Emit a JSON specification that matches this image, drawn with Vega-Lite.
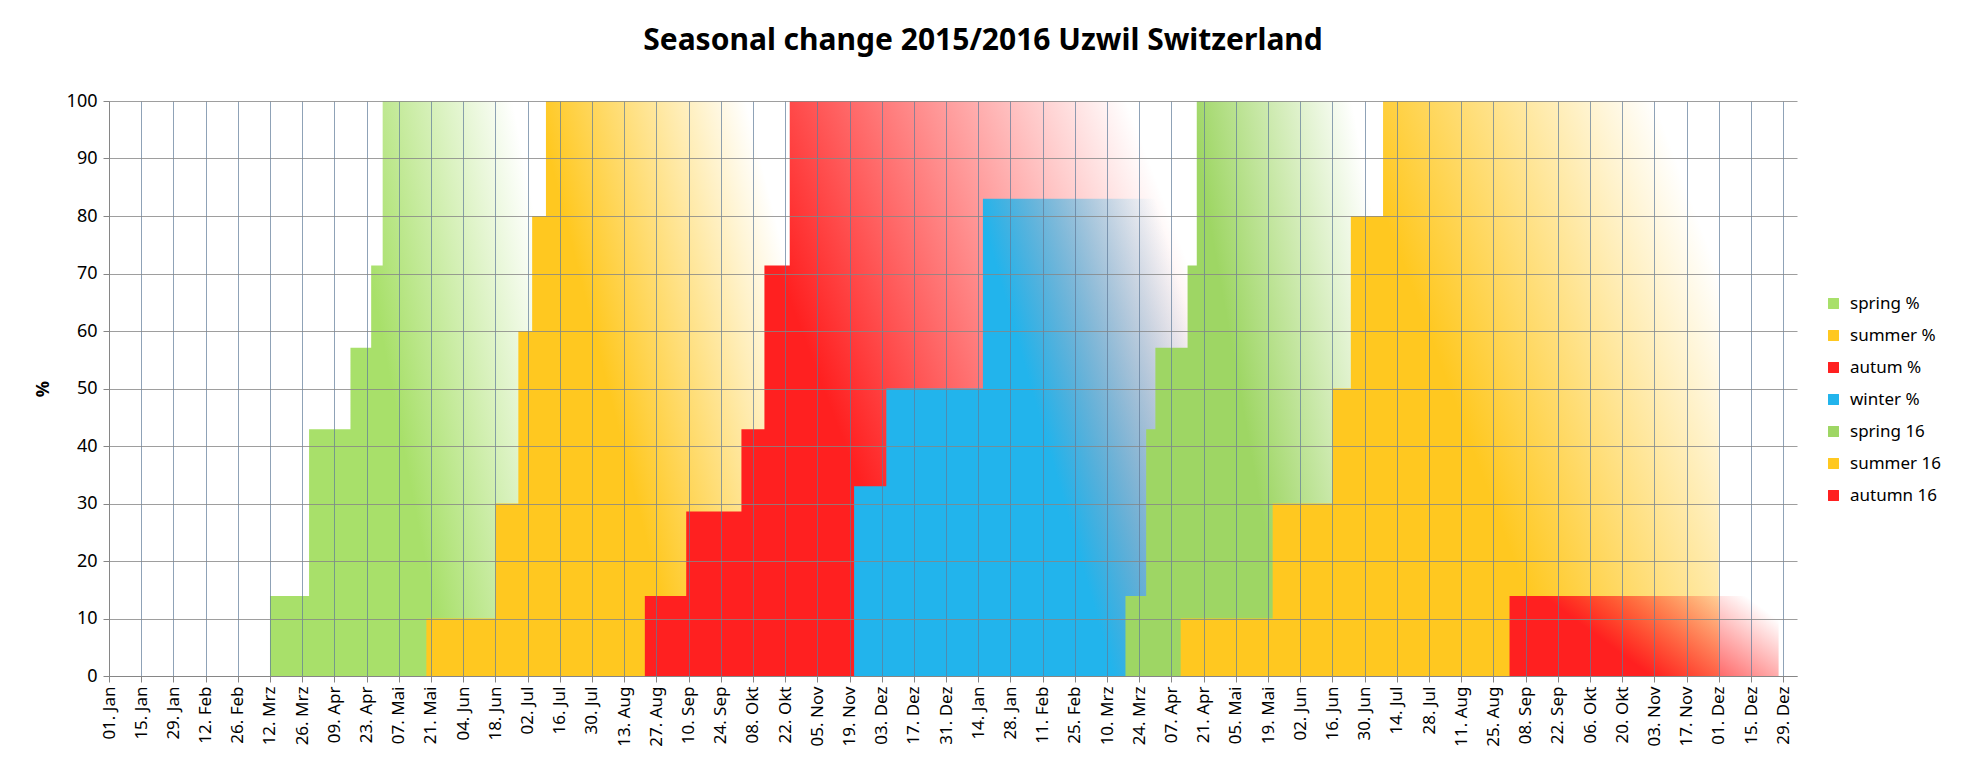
{
  "$schema": "https://vega.github.io/schema/vega-lite/v6.json",
  "width": 1688,
  "height": 575,
  "autosize": "none",
  "padding": {"left": 109, "top": 101, "right": 167, "bottom": 94},
  "background": "white",
  "title": {
    "text": "Seasonal change 2015/2016 Uzwil Switzerland",
    "fontSize": 30, "font": "Noto Sans", "fontWeight": "bold", "color": "#000000",
    "anchor": "middle", "frame": "group", "offset": 36, "dx": 30
  },
  "config": {
    "view": {"stroke": null},
    "font": "Noto Sans",
    "axis": {"labelFontSize": 17, "labelColor": "#000", "titleColor": "#000"}
  },
  "data": {
    "values": [
      {"series": "spring %", "date": "2015-03-12", "value": 13.9},
      {"series": "spring %", "date": "2015-03-29", "value": 42.9},
      {"series": "spring %", "date": "2015-04-16", "value": 57.1},
      {"series": "spring %", "date": "2015-04-25", "value": 71.4},
      {"series": "spring %", "date": "2015-04-30", "value": 100},
      {"series": "spring %", "date": "2015-07-10", "value": 100},
      {"series": "summer %", "date": "2015-05-19", "value": 10},
      {"series": "summer %", "date": "2015-06-18", "value": 30},
      {"series": "summer %", "date": "2015-06-28", "value": 60},
      {"series": "summer %", "date": "2015-07-04", "value": 80},
      {"series": "summer %", "date": "2015-07-10", "value": 100},
      {"series": "summer %", "date": "2015-10-24", "value": 100},
      {"series": "autum %", "date": "2015-08-22", "value": 13.9},
      {"series": "autum %", "date": "2015-09-09", "value": 28.6},
      {"series": "autum %", "date": "2015-10-03", "value": 42.9},
      {"series": "autum %", "date": "2015-10-13", "value": 71.4},
      {"series": "autum %", "date": "2015-10-24", "value": 100},
      {"series": "autum %", "date": "2016-04-16", "value": 100},
      {"series": "winter %", "date": "2015-11-21", "value": 33},
      {"series": "winter %", "date": "2015-12-05", "value": 50},
      {"series": "winter %", "date": "2016-01-16", "value": 83},
      {"series": "winter %", "date": "2016-04-18", "value": 83},
      {"series": "spring 16", "date": "2016-03-18", "value": 13.9},
      {"series": "spring 16", "date": "2016-03-27", "value": 42.9},
      {"series": "spring 16", "date": "2016-03-31", "value": 57.1},
      {"series": "spring 16", "date": "2016-04-14", "value": 71.4},
      {"series": "spring 16", "date": "2016-04-18", "value": 100},
      {"series": "spring 16", "date": "2016-07-08", "value": 100},
      {"series": "summer 16", "date": "2016-04-11", "value": 10},
      {"series": "summer 16", "date": "2016-05-21", "value": 30},
      {"series": "summer 16", "date": "2016-06-16", "value": 50},
      {"series": "summer 16", "date": "2016-06-24", "value": 80},
      {"series": "summer 16", "date": "2016-07-08", "value": 100},
      {"series": "summer 16", "date": "2016-12-01", "value": 100},
      {"series": "autumn 16", "date": "2016-09-01", "value": 13.9},
      {"series": "autumn 16", "date": "2016-12-27", "value": 13.9}
    ]
  },
  "encoding": {
    "x": {
      "field": "date", "type": "temporal",
      "scale": {"type": "utc", "domain": [1420070400000, 1483488000000]},
      "axis": {
        "title": null, "grid": true, "gridColor": "#5f7a99", "gridOpacity": 0.7, "zindex": 1,
        "domain": true, "domainColor": "#868686", "tickColor": "#868686", "tickSize": 6,
        "labelAngle": 270, "labelAlign": "right", "labelBaseline": "middle", "labelPadding": 4,
        "labelExpr": "timeFormat(datum.value, '%d') + '. ' + ['Jan','Feb','Mrz','Apr','Mai','Jun','Jul','Aug','Sep','Okt','Nov','Dez'][utcmonth(datum.value)]",
        "values": [1420070400000,1421280000000,1422489600000,1423699200000,1424908800000,1426118400000,1427328000000,1428537600000,1429747200000,1430956800000,1432166400000,1433376000000,1434585600000,1435795200000,1437004800000,1438214400000,1439424000000,1440633600000,1441843200000,1443052800000,1444262400000,1445472000000,1446681600000,1447891200000,1449100800000,1450310400000,1451520000000,1452729600000,1453939200000,1455148800000,1456358400000,1457568000000,1458777600000,1459987200000,1461196800000,1462406400000,1463616000000,1464825600000,1466035200000,1467244800000,1468454400000,1469664000000,1470873600000,1472083200000,1473292800000,1474502400000,1475712000000,1476921600000,1478131200000,1479340800000,1480550400000,1481760000000,1482969600000],
        "labelOverlap": false
      }
    },
    "y": {
      "field": "value", "type": "quantitative",
      "scale": {"domain": [0, 100]},
      "axis": {
        "title": "%", "titleFontSize": 18, "titleFontWeight": "bold", "titleAngle": 270, "titlePadding": 14,
        "values": [0,10,20,30,40,50,60,70,80,90,100], "labelFontSize": 18,
        "grid": true, "gridColor": "#868686", "gridOpacity": 0.8, "zindex": 1,
        "domainColor": "#868686", "tickColor": "#868686", "tickSize": 6, "labelPadding": 6
      }
    }
  },
  "layer": [
    {"transform": [{"filter": "datum.series == 'spring %'"}],
     "mark": {"type": "area", "interpolate": "step-after", "color": {"gradient": "linear", "x1": 0, "y1": 0.7, "x2": 1, "y2": 0.3,
       "stops": [{"offset": 0, "color": "#a8e06a"}, {"offset": 0.45, "color": "#a8e06a"}, {"offset": 1, "color": "rgba(168,224,106,0)"}]}}},
    {"transform": [{"filter": "datum.series == 'summer %'"}],
     "mark": {"type": "area", "interpolate": "step-after", "color": {"gradient": "linear", "x1": 0, "y1": 0.7, "x2": 1, "y2": 0.3,
       "stops": [{"offset": 0, "color": "#ffc820"}, {"offset": 0.5, "color": "#ffc820"}, {"offset": 1, "color": "rgba(255,200,32,0)"}]}}},
    {"transform": [{"filter": "datum.series == 'autum %'"}],
     "mark": {"type": "area", "interpolate": "step-after", "color": {"gradient": "linear", "x1": 0, "y1": 0.7, "x2": 1, "y2": 0.3,
       "stops": [{"offset": 0, "color": "#ff2020"}, {"offset": 0.35, "color": "#ff2020"}, {"offset": 1, "color": "rgba(255,32,32,0)"}]}}},
    {"transform": [{"filter": "datum.series == 'winter %'"}],
     "mark": {"type": "area", "interpolate": "step-after", "color": {"gradient": "linear", "x1": 0, "y1": 0.7, "x2": 1, "y2": 0.3,
       "stops": [{"offset": 0, "color": "#22b4ec"}, {"offset": 0.55, "color": "#22b4ec"}, {"offset": 1, "color": "rgba(34,180,236,0)"}]}}},
    {"transform": [{"filter": "datum.series == 'spring 16'"}],
     "mark": {"type": "area", "interpolate": "step-after", "color": {"gradient": "linear", "x1": 0, "y1": 0.7, "x2": 1, "y2": 0.3,
       "stops": [{"offset": 0, "color": "#9ed664"}, {"offset": 0.45, "color": "#9ed664"}, {"offset": 1, "color": "rgba(158,214,100,0)"}]}}},
    {"transform": [{"filter": "datum.series == 'summer 16'"}],
     "mark": {"type": "area", "interpolate": "step-after", "color": {"gradient": "linear", "x1": 0, "y1": 0.7, "x2": 1, "y2": 0.3,
       "stops": [{"offset": 0, "color": "#ffc820"}, {"offset": 0.5, "color": "#ffc820"}, {"offset": 1, "color": "rgba(255,200,32,0)"}]}}},
    {"transform": [{"filter": "datum.series == 'autumn 16'"}],
     "mark": {"type": "area", "interpolate": "step-after", "color": {"gradient": "linear", "x1": 0, "y1": 0.7, "x2": 1, "y2": 0.3,
       "stops": [{"offset": 0, "color": "#ff2020"}, {"offset": 0.35, "color": "#ff2020"}, {"offset": 1, "color": "rgba(255,32,32,0)"}]}}},
    {"mark": {"type": "point", "opacity": 0, "shape": "square", "filled": true},
     "encoding": {
       "color": {"field": "series", "type": "nominal",
         "scale": {"domain": ["spring %", "summer %", "autum %", "winter %", "spring 16", "summer 16", "autumn 16"],
                   "range": ["#a8e06a", "#ffc820", "#ff2020", "#22b4ec", "#9ed664", "#ffc820", "#ff2020"]},
         "legend": {"title": null, "orient": "none", "legendX": 1716, "legendY": 194,
           "symbolType": "square", "symbolSize": 120, "symbolOpacity": 1, "labelFontSize": 17,
           "labelColor": "#000", "rowPadding": 14, "labelOffset": 8}}
     }}
  ]
}
